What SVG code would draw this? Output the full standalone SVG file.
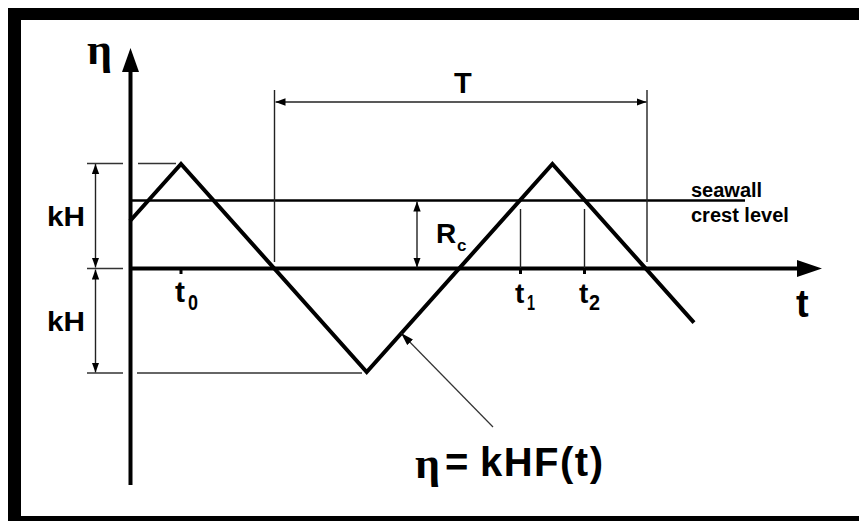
<svg xmlns="http://www.w3.org/2000/svg" width="859" height="521" viewBox="0 0 859 521">
<defs>
<style>
.sans{font-family:"Liberation Sans",Arial,sans-serif;font-weight:bold;fill:#000}
.serif{font-family:"Liberation Serif","Times New Roman",serif;font-weight:bold;fill:#000}
.thin{stroke:#222;stroke-width:1.4;fill:none}
.ext{stroke:#333;stroke-width:1.4;fill:none}
.axis{stroke:#000;stroke-width:4;fill:none}
</style>
<marker id="ah" markerUnits="userSpaceOnUse" markerWidth="10" markerHeight="8" refX="10" refY="4" orient="auto-start-reverse">
<path d="M0,0.3 L10,4 L0,7.7 z" fill="#000"/>
</marker>
<marker id="ahl" markerUnits="userSpaceOnUse" markerWidth="13" markerHeight="9" refX="13" refY="4.5" orient="auto">
<path d="M0,0.5 L13,4.5 L0,8.5 z" fill="#000"/>
</marker>
</defs>
<rect x="0" y="0" width="859" height="521" fill="#fff"/>
<g id="frame" fill="#000">
<rect x="8" y="8" width="851" height="12"/>
<rect x="8" y="8" width="13" height="513"/>
<rect x="8" y="516" width="851" height="5"/>
</g>
<g id="axes">
<line class="axis" x1="130.5" y1="70" x2="130.5" y2="485"/>
<polygon points="130.5,48 122,72 139,72" fill="#000"/>
<line class="axis" x1="130" y1="268.5" x2="800" y2="268.5" stroke-width="3.5"/>
<polygon points="822,268.5 797,260 797,277" fill="#000"/>
</g>
<g id="seawall-line">
<line x1="130" y1="200.5" x2="745" y2="200.5" stroke="#000" stroke-width="2.5"/>
</g>
<g id="wave">
<polyline points="130,221 181,164 366.7,372 552.4,164 694,322.6" fill="none" stroke="#000" stroke-width="4" stroke-linejoin="miter" stroke-miterlimit="10"/>
</g>
<g id="connectors">
<line class="ext" x1="87" y1="163.5" x2="123" y2="163.5"/>
<line class="ext" x1="138" y1="163.5" x2="176" y2="163.5"/>
<line class="ext" x1="87" y1="268.5" x2="123" y2="268.5"/>
<line class="ext" x1="87" y1="373" x2="123" y2="373"/>
<line class="ext" x1="137" y1="373" x2="362" y2="373"/>
<line class="thin" x1="274.5" y1="90" x2="274.5" y2="262"/>
<line class="thin" x1="647" y1="90" x2="647" y2="262"/>
<line class="thin" x1="520.5" y1="209" x2="520.5" y2="268"/>
<line class="thin" x1="584.5" y1="209" x2="584.5" y2="268"/>
<line x1="181" y1="268" x2="181" y2="274" stroke="#000" stroke-width="3"/>
<line x1="520.5" y1="268" x2="520.5" y2="274" stroke="#000" stroke-width="3"/>
<line x1="584.5" y1="268" x2="584.5" y2="274" stroke="#000" stroke-width="3"/>
<line class="thin" x1="275.5" y1="102" x2="646.5" y2="102" marker-start="url(#ah)" marker-end="url(#ah)"/>
<line class="thin" x1="417" y1="201.5" x2="417" y2="267.5" marker-start="url(#ah)" marker-end="url(#ah)"/>
<line class="thin" x1="95.5" y1="164" x2="95.5" y2="267.5" marker-start="url(#ah)" marker-end="url(#ah)"/>
<line class="thin" x1="95.5" y1="269.5" x2="95.5" y2="372.5" marker-start="url(#ah)" marker-end="url(#ah)"/>
<line x1="493" y1="427" x2="401" y2="333" stroke="#333" stroke-width="1.2" marker-end="url(#ahl)"/>
</g>
<g id="labels">
<text class="serif" x="87" y="64" font-size="44">η</text>
<text class="sans" x="454" y="93" font-size="29">T</text>
<text class="sans" x="691" y="197" font-size="20">seawall</text>
<text class="sans" x="691" y="222" font-size="20">crest level</text>
<text class="sans" x="436" y="243" font-size="28">R</text>
<text class="sans" x="457" y="251" font-size="17">c</text>
<text class="sans" x="47" y="226" font-size="27" textLength="38" lengthAdjust="spacingAndGlyphs">kH</text>
<text class="sans" x="47" y="331" font-size="27" textLength="38" lengthAdjust="spacingAndGlyphs">kH</text>
<text class="sans" x="175" y="302" font-size="30">t</text>
<text class="sans" x="188" y="310" font-size="22" font-weight="normal" textLength="10" lengthAdjust="spacingAndGlyphs">0</text>
<text class="sans" x="515" y="303" font-size="28">t</text>
<text class="sans" x="527" y="310" font-size="22" font-weight="normal" textLength="8" lengthAdjust="spacingAndGlyphs">1</text>
<text class="sans" x="579" y="303" font-size="28">t</text>
<text class="sans" x="589" y="310" font-size="22" font-weight="normal" textLength="11" lengthAdjust="spacingAndGlyphs">2</text>
<text class="sans" x="796" y="317" font-size="38">t</text>
<text class="serif" x="415" y="478" font-size="44">η</text>
<text class="sans" x="445" y="476" font-size="40">=</text>
<text class="sans" x="480" y="476" font-size="40" textLength="123" lengthAdjust="spacing">kHF(t)</text>
</g>
</svg>
